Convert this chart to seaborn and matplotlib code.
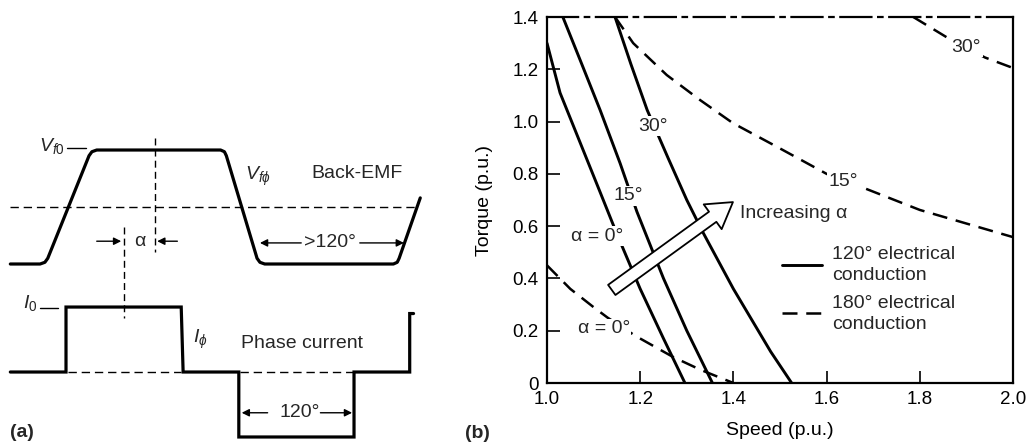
import numpy as np
import pandas as pd
import matplotlib
matplotlib.use("Agg")
import matplotlib.pyplot as plt
import seaborn as sns
from matplotlib.lines import Line2D

# ---------------- data: panel (b) torque-speed envelopes ----------------
s120_a0_speed = [1.00, 1.028, 1.071, 1.114, 1.15, 1.20, 1.25, 1.296]
s120_a0_torque = [1.30, 1.11, 0.92, 0.73, 0.57, 0.36, 0.17, 0.00]
s120_a15_speed = [1.034, 1.071, 1.114, 1.157, 1.193, 1.25, 1.30, 1.355]
s120_a15_torque = [1.40, 1.236, 1.044, 0.84, 0.655, 0.40, 0.20, 0.00]
s120_a30_speed = [1.146, 1.18, 1.215, 1.26, 1.30, 1.335, 1.40, 1.44, 1.48, 1.525]
s120_a30_torque = [1.40, 1.22, 1.044, 0.86, 0.70, 0.575, 0.36, 0.24, 0.12, 0.00]
s180_a0_speed = [1.00, 1.05, 1.10, 1.13, 1.19, 1.27, 1.33, 1.40]
s180_a0_torque = [0.45, 0.36, 0.29, 0.25, 0.18, 0.10, 0.05, 0.00]
s180_a15_speed = [1.146, 1.185, 1.257, 1.328, 1.399, 1.494, 1.60, 1.68, 1.80, 2.00]
s180_a15_torque = [1.40, 1.30, 1.178, 1.083, 0.994, 0.903, 0.80, 0.746, 0.662, 0.558]
s180_a30_speed = [1.786, 1.86, 1.94, 2.00]
s180_a30_torque = [1.40, 1.32, 1.245, 1.205]

x_ticks = [1.0, 1.2, 1.4, 1.6, 1.8, 2.0]
x_tick_labels = ["1.0", "1.2", "1.4", "1.6", "1.8", "2.0"]
y_ticks = [0, 0.2, 0.4, 0.6, 0.8, 1.0, 1.2, 1.4]
y_tick_labels = ["0", "0.2", "0.4", "0.6", "0.8", "1.0", "1.2", "1.4"]

# ---------------- data: panel (a) waveforms (electrical degrees, p.u.) ----------------
emf_deg = [-58, -27, -22, -19, 24, 27, 32, 161, 165, 167, 199, 202, 207, 341, 345, 347, 369]
emf_val = [-1, -1, -0.97, -0.9, 0.9, 0.97, 1, 1, 0.97, 0.9, -0.9, -0.97, -1, -1, -0.97, -0.9, 0.16]
cur_deg = [-58, 0, 0, 120, 122, 180, 180, 300, 300, 358, 358, 362]
cur_val = [0, 0, 1, 1, 0, 0, -1, -1, 0, 0, 0.9, 0.9]

# ---------------- style ----------------
sns.set_theme(style="white")
plt.rcParams["font.family"] = ["Liberation Sans", "DejaVu Sans"]
plt.rcParams["mathtext.fontset"] = "custom"
plt.rcParams["mathtext.rm"] = "Liberation Sans"
plt.rcParams["mathtext.it"] = "Liberation Sans:italic"
FS = 14

fig = plt.figure(figsize=(10.31, 4.44), dpi=100)

# ================= panel (a) =================
ax_a = fig.add_axes([0, 0, 0.5, 1])
ax_a.set_xlim(-68.75, 468.2)
ax_a.set_ylim(-4.158, 3.632)
ax_a.axis("off")

CUR_OFF, CUR_SCALE = -2.895, 1.14
cur_y = [CUR_OFF + CUR_SCALE * v for v in cur_val]

ax_a.plot(emf_deg, emf_val, color="black", lw=2.3, solid_joinstyle="round")
ax_a.plot(cur_deg, cur_y, color="black", lw=2.3, solid_joinstyle="miter")
dash = (0, (6, 3.5))
ax_a.plot([-58, 363], [0, 0], color="black", lw=1.0, ls=dash)
ax_a.plot([2, 120, np.nan, 181, 304], [CUR_OFF] * 5, color="black", lw=1.0, ls=dash)
ax_a.plot([93, 93], [1.21, -0.79], color="black", lw=1.0, ls=(0, (5, 3)))
ax_a.plot([60, 60], [-0.35, -1.95], color="black", lw=1.0, ls=(0, (5, 3)))
# level markers
ax_a.plot([1, 21], [1.035, 1.035], color="black", lw=1.0)
ax_a.plot([-27, -8.3], [-1.77, -1.77], color="black", lw=1.0)

ax_a.text(-1, 1.07, "$V_{f0}$", ha="right", va="center", fontsize=FS)
ax_a.text(200, 0.544, r"$V_{f\phi}$", ha="center", va="center", fontsize=FS)
ax_a.text(303, 0.58, "Back-EMF", ha="center", va="center", fontsize=FS)
ax_a.text(275, -0.63, ">120°", ha="center", va="center", fontsize=FS)
ax_a.text(77, -0.60, "α", ha="center", va="center", fontsize=FS)
ax_a.text(-30.2, -1.68, "$I_0$", ha="right", va="center", fontsize=FS)
ax_a.text(140, -2.33, r"$I_{\phi}$", ha="center", va="center", fontsize=FS)
ax_a.text(246, -2.39, "Phase current", ha="center", va="center", fontsize=FS)
ax_a.text(243, -3.61, "120°", ha="center", va="center", fontsize=FS)
ax_a.text(-46, -3.96, "(a)", ha="center", va="center", fontsize=FS, fontweight="bold")

arr = dict(arrowstyle="-|>", color="black", lw=1.0, mutation_scale=11, shrinkA=0, shrinkB=0)
for tail, tip, yy in [(32, 57.5, -0.6), (116, 95, -0.6), (245, 202, -0.63), (306, 352, -0.63),
                      (210, 183, -3.61), (265, 298, -3.61)]:
    ax_a.annotate("", xy=(tip, yy), xytext=(tail, yy), arrowprops=arr)

fig.text(477 / 1031, 1 - 433 / 444, "(b)", ha="center", va="center", fontsize=FS, fontweight="bold")

# ================= panel (b) =================
ax = fig.add_axes([547 / 1031, 1 - 383 / 444, 466 / 1031, 366 / 444])
ax.set_xlim(1.0, 2.0)
ax.set_ylim(0, 1.4)

LW = 2.1
dashed = (0, (6, 3.5))
solid_curves = [(s120_a0_speed, s120_a0_torque), (s120_a15_speed, s120_a15_torque),
                (s120_a30_speed, s120_a30_torque)]
dashed_curves = [(s180_a0_speed, s180_a0_torque), (s180_a15_speed, s180_a15_torque),
                 (s180_a30_speed, s180_a30_torque)]
for xs, ys in solid_curves:
    sns.lineplot(x=xs, y=ys, ax=ax, color="black", lw=LW, estimator=None, sort=False)
for xs, ys in dashed_curves:
    sns.lineplot(x=xs, y=ys, ax=ax, color="black", lw=1.8, estimator=None, sort=False,
                 linestyle=dashed)

lab = dict(fontsize=FS, ha="center", va="center", zorder=5,
           bbox=dict(facecolor="white", edgecolor="none", pad=1.0))
ax.text(1.227, 0.983, "30°", **lab)
ax.text(1.174, 0.716, "15°", **lab)
ax.text(1.107, 0.562, "α = 0°", **lab)
ax.text(1.122, 0.207, "α = 0°", **lab)
ax.text(1.635, 0.769, "15°", **lab)
ax.text(1.90, 1.285, "30°", **lab)

ax.annotate("", xy=(1.399, 0.692), xytext=(1.139, 0.356), zorder=6,
            arrowprops=dict(arrowstyle="simple,head_length=0.9,head_width=1.1,tail_width=0.45",
                            mutation_scale=20, fc="white", ec="black", lw=1.3,
                            shrinkA=0, shrinkB=0))
ax.text(1.414, 0.65, "Increasing α", fontsize=FS, ha="left", va="center")

handles = [Line2D([], [], color="black", lw=LW),
           Line2D([], [], color="black", lw=1.8, ls=dashed)]
leg = ax.legend(handles, ["120° electrical\nconduction", "180° electrical\nconduction"],
                loc="upper left", bbox_to_anchor=(0.504, 0.374), frameon=False, fontsize=FS,
                handlelength=2.05, handletextpad=0.55, labelspacing=0.55, borderpad=0,
                borderaxespad=0)
for t in leg.get_texts():
    t.set_linespacing(1.3)

ax.set_xticks(x_ticks)
ax.set_xticklabels(x_tick_labels)
ax.set_yticks(y_ticks)
ax.set_yticklabels(y_tick_labels)
ax.tick_params(direction="in", length=9, width=1.2, labelsize=13.5, pad=6,
               bottom=True, left=True, color="black", labelcolor="black")
for side in ["left", "right", "bottom", "top"]:
    ax.spines[side].set_color("black")
    ax.spines[side].set_linewidth(1.6)
ax.spines["top"].set_linestyle((0, (14, 3, 2, 3)))
ax.set_xlabel("Speed (p.u.)", fontsize=FS, labelpad=10, color="black")
ax.set_ylabel("Torque (p.u.)", fontsize=FS, labelpad=14, color="black")

fig.savefig("out.png", dpi=100)
